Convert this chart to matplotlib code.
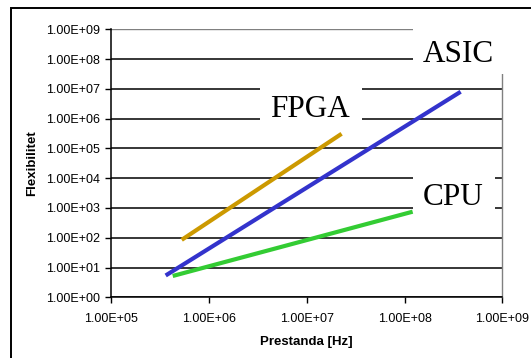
import matplotlib
matplotlib.use("Agg")
import matplotlib.pyplot as plt
from matplotlib.patches import Rectangle
from matplotlib.ticker import FixedLocator, FuncFormatter, NullLocator

# Data
series_names = ["ASIC", "FPGA", "CPU"]
asic_x = [3.6e5, 3.75e8]
asic_y = [5.4, 8.0e6]
fpga_x = [5.25e5, 2.27e7]
fpga_y = [85, 3.1e5]
cpu_x = [4.25e5, 1.21e8]
cpu_y = [5.2, 750]
x_ticks = [1e5, 1e6, 1e7, 1e8, 1e9]
y_ticks = [1e0, 1e1, 1e2, 1e3, 1e4, 1e5, 1e6, 1e7, 1e8, 1e9]
x_label = "Prestanda [Hz]"
y_label = "Flexibilitet"

W, H = 531, 358
fig = plt.figure(figsize=(W / 100, H / 100), dpi=100)
fig.patch.set_facecolor("white")

def fx(px):
    return px / W

def fy(py):
    return 1 - py / H

ax = fig.add_axes([fx(111.3), fy(297.3), (502.3 - 111.3) / W, (297.3 - 29.3) / H])
ax.set_xscale("log")
ax.set_yscale("log")
ax.set_xlim(1e5, 1e9)
ax.set_ylim(1e0, 1e9)
ax.set_axisbelow(True)

ax.xaxis.set_major_locator(FixedLocator(x_ticks))
ax.yaxis.set_major_locator(FixedLocator(y_ticks))
ax.xaxis.set_minor_locator(NullLocator())
ax.yaxis.set_minor_locator(NullLocator())
fmt = FuncFormatter(lambda v, p: f"{v:.2E}")
ax.xaxis.set_major_formatter(fmt)
ax.yaxis.set_major_formatter(fmt)

tick_font = dict(family="Liberation Sans", size=9)
for lab in ax.get_xticklabels() + ax.get_yticklabels():
    lab.set_fontfamily("Liberation Sans")
    lab.set_fontsize(9)
ax.tick_params(axis="both", direction="out", length=4, width=1, color="black", labelcolor="black")
ax.tick_params(axis="x", pad=7)
ax.tick_params(axis="y", pad=4)

ax.yaxis.grid(True, color="black", linewidth=1.1)
ax.xaxis.grid(False)
glines = ax.get_ygridlines()
glines[-1].set_color("#808080")
glines[-1].set_linewidth(1.0)

ax.spines["top"].set_visible(False)
ax.spines["left"].set_color("black")
ax.spines["left"].set_linewidth(1.1)
ax.spines["bottom"].set_color("black")
ax.spines["bottom"].set_linewidth(1.1)
ax.spines["right"].set_color("#808080")
ax.spines["right"].set_linewidth(1.0)

ax.set_xlabel(x_label, fontfamily="Liberation Sans", fontsize=9.5, fontweight="bold", labelpad=8)
ax.set_ylabel(y_label, fontfamily="Liberation Sans", fontsize=9.5, fontweight="bold", labelpad=6)

# white label boxes (cover grid lines)
boxes = [(412.7, 10, 120, 64), (260, 80, 102, 45), (412.7, 171, 82.3, 42)]
for (bx, by, bw, bh) in boxes:
    r = Rectangle((fx(bx), fy(by + bh)), bw / W, bh / H, transform=fig.transFigure,
                  facecolor="white", edgecolor="none", zorder=2.7, clip_on=False)
    ax.add_artist(r)

# labels
labels = [("ASIC", 458, 62), ("FPGA", 309.5, 117), ("CPU", 453, 205)]
for t, lx, ly in labels:
    ax.text(fx(lx), fy(ly), t, transform=fig.transFigure, ha="center", va="baseline",
            fontfamily="Liberation Serif", fontsize=22.5, color="black", zorder=2.8)

# lines
ax.plot(asic_x, asic_y, color="#3333CC", linewidth=3, solid_capstyle="butt", zorder=3, clip_on=False)
ax.plot(fpga_x, fpga_y, color="#CC9900", linewidth=3, solid_capstyle="butt", zorder=3, clip_on=False)
ax.plot(cpu_x, cpu_y, color="#33CC33", linewidth=3, solid_capstyle="butt", zorder=3, clip_on=False)

# outer frame
frame = Rectangle((fx(10.7), fy(400)), (600 - 10.7) / W, (400 - 8) / H, transform=fig.transFigure,
                  facecolor="none", edgecolor="black", linewidth=1.4, clip_on=False)
fig.patches.append(frame)

fig.savefig("out.png", dpi=100)
